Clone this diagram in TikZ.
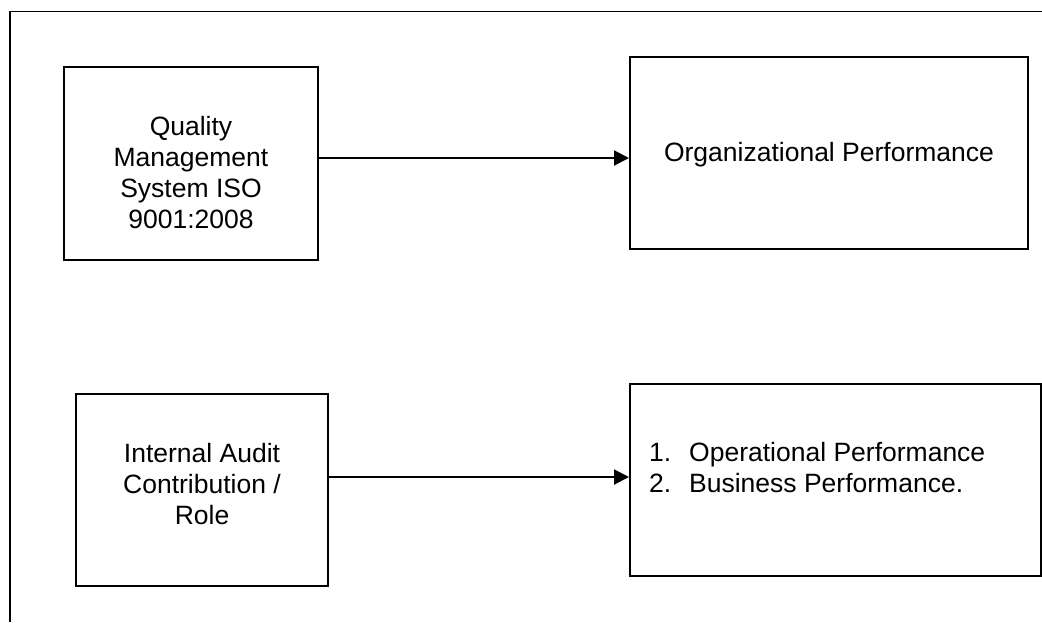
\documentclass[tikz,border=0pt]{standalone}
\usepackage{fontspec}
\setmainfont{Liberation Sans}
\usetikzlibrary{arrows.meta}

\begin{document}
\begin{tikzpicture}[x=1pt, y=-1pt,
  box/.style={draw, line width=2pt, minimum height=192pt, inner sep=0pt},
  boxtext/.style={draw=none, inner sep=0pt, font=\fontsize{26.5}{31}\selectfont},
  arr/.style={line width=2pt, -{Triangle[length=15pt, width=15pt]}}]

\useasboundingbox (0,0) rectangle (1042,622);

% outer frame, open at the bottom and right
\draw[line width=1.8pt] (1042,11.5) -- (10,11.5) -- (10,622);

% upper row
\node[box, minimum width=254pt, minimum height=193pt] (qms) at (191,163.5) {};
\node[boxtext, align=center, yshift=-9pt] (qmstext) at (qms.center)
  {Quality\\Management\\System ISO\\9001:2008};

\node[box, minimum width=398pt] (orgperf) at (829,153) {};
\node[boxtext, yshift=-2pt] (orgtext) at (orgperf.center) {Organizational Performance};

% lower row
\node[box, minimum width=252pt] (audit) at (202,490) {};
\node[boxtext, align=center, yshift=5.5pt] (audittext) at (audit.center)
  {Internal Audit\\Contribution /\\Role};

\node[box, minimum width=411pt] (opperf) at (835.5,480) {};
\node[boxtext, align=left, anchor=west, xshift=20pt, yshift=12.5pt] (opptext) at (opperf.west)
  {\makebox[40pt][l]{1.}Operational Performance\\
   \makebox[40pt][l]{2.}Business Performance.};

% links
\draw[arr] ([yshift=5.5pt]qms.east) -- ([yshift=5.5pt]qms.east -| orgperf.west);
\draw[arr] ([yshift=13pt]audit.east) -- ([yshift=13pt]audit.east -| opperf.west);

\end{tikzpicture}
\end{document}
